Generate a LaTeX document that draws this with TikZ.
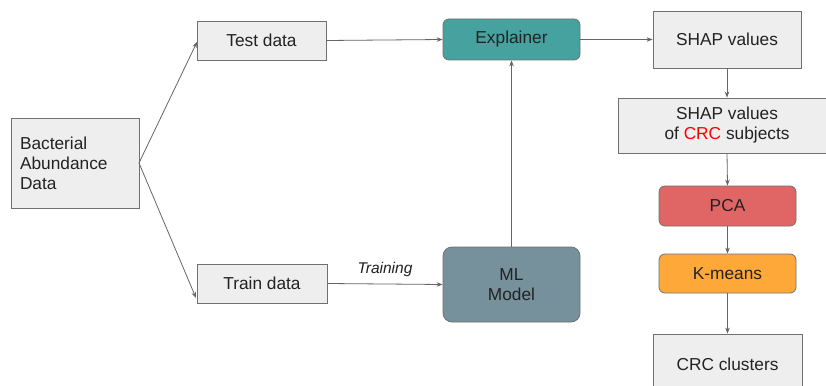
\documentclass[tikz,border=0pt]{standalone}
\usepackage{fontspec}
\setmainfont{Liberation Sans}
\usetikzlibrary{arrows.meta}
\definecolor{boxfill}{HTML}{EEEEEE}
\definecolor{boxline}{HTML}{707070}
\definecolor{teal2}{HTML}{45A29E}
\definecolor{slate}{HTML}{76909C}
\definecolor{pcared}{HTML}{E06666}
\definecolor{kmorange}{HTML}{FFA83A}
\definecolor{arr}{HTML}{666666}
\definecolor{txt}{HTML}{222222}
\tikzset{
  box/.style={draw=boxline, line width=0.8pt, fill=boxfill, inner sep=0pt, align=center, font=\fontsize{17.3}{20}\selectfont, text=txt},
  rbox/.style={box, rounded corners=6pt},
  conn/.style={draw=arr, line width=0.8pt, -{Stealth[length=6pt,width=4.5pt]}},
}
\begin{document}
\begin{tikzpicture}[x=1pt,y=-1pt]
\useasboundingbox (0,0) rectangle (826,385);
\fill[white] (0,0) rectangle (826,385);
\node[box, minimum width=128pt, minimum height=90pt, align=left, text width=110pt] (bact) at (75,163) {Bacterial\\Abundance\\Data};
\node[box, minimum width=129pt, minimum height=39pt] (test) at (261.5,40.5) {Test data};
\node[box, minimum width=130pt, minimum height=39pt] (train) at (262,283.5) {Train data};
\node[rbox, fill=teal2, minimum width=137pt, minimum height=41pt] (expl) at (511.5,39.5) {Explainer};
\node[rbox, fill=slate, minimum width=137pt, minimum height=75pt, rounded corners=9pt] (ml) at (511.5,284.5) {ML\\Model};
\node[box, minimum width=148pt, minimum height=57pt] (shap) at (727,39.5) {SHAP values};
\node[box, minimum width=208pt, minimum height=55pt] (shapcrc) at (722,125.5) {};
\node[font=\fontsize{17.3}{20}\selectfont, text=txt, align=center] (shapcrctxt) at (727,125.5) {SHAP values\\of \textcolor{red}{CRC} subjects};
\node[rbox, fill=pcared, minimum width=137pt, minimum height=40pt] (pca) at (727.5,206) {PCA};
\node[rbox, fill=kmorange, minimum width=137pt, minimum height=39pt] (km) at (727.5,273.5) {K-means};
\node[box, minimum width=149pt, minimum height=80pt] (crc) at (727.5,374) {};
\node[font=\fontsize{17.3}{20}\selectfont, text=txt] (crctxt) at (727.5,364) {CRC clusters};
\coordinate (bactout) at (139,163);
\coordinate (testin) at (197,42);
\coordinate (trainin) at (196,298);
\draw[conn] (bactout) -- (testin);
\draw[conn] (bactout) -- (trainin);
\draw[conn] (test.east) -- (expl.west);
\draw[conn] (train.east) -- node[above=4pt, font=\fontsize{15.5}{18}\selectfont\itshape, text=txt] {Training} (ml.west);
\draw[conn] (ml.north) -- (expl.south);
\draw[conn] (expl.east) -- (shap.west);
\draw[conn] (shap.south) -- (shap.south |- shapcrc.north);
\draw[conn] (shap.south |- shapcrc.south) -- (pca.north);
\draw[conn] (pca.south) -- (km.north);
\draw[conn] (km.south) -- (crc.north);
\end{tikzpicture}
\end{document}
